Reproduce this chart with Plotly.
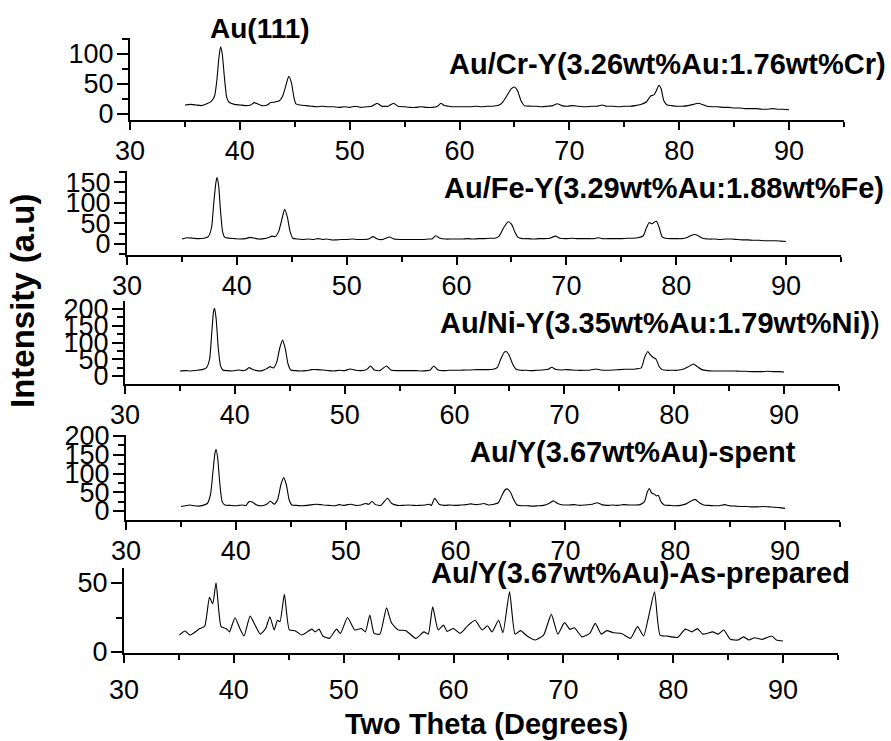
import plotly.graph_objects as go

W, H = 891, 741

# ---------------- data (2theta in degrees, intensity a.u.) ----------------
cr_x = [35.0, 35.5, 36.0, 36.5, 37.0, 37.4, 37.7, 37.9, 38.1, 38.25, 38.4, 38.6, 38.8, 39.0, 39.5, 40.0, 40.5, 41.0, 41.3, 41.6,
        42.0, 42.5, 42.8, 43.2, 43.6, 43.9, 44.2, 44.45, 44.7, 44.9, 45.1, 45.5, 46.0, 46.5, 47.0, 47.5, 48.0, 48.5, 49.0, 49.5,
        50.0, 50.5, 51.0, 51.5, 52.0, 52.5, 52.9, 53.5, 54.0, 54.4, 55.0, 55.5, 56.0, 56.5, 57.0, 57.5, 58.0, 58.3, 58.6, 59.0,
        59.5, 60.0, 60.5, 61.0, 61.5, 62.0, 62.5, 63.0, 63.5, 63.9, 64.3, 64.7, 65.0, 65.3, 65.6, 65.9, 66.5, 67.0, 67.5, 68.0,
        68.5, 68.9, 69.3, 69.8, 70.3, 70.8, 71.5, 72.0, 72.5, 73.0, 73.4, 74.0, 74.5, 75.0, 75.5, 76.0, 76.5, 77.0, 77.4, 77.7,
        77.9, 78.15, 78.35, 78.6, 78.9, 79.3, 79.8, 80.3, 80.8, 81.3, 81.7, 82.1, 82.5, 83.0, 83.5, 84.0, 84.5, 85.0, 85.5, 86.0,
        86.5, 87.0, 87.5, 88.0, 88.5, 89.0, 89.5, 90.0]
cr_y = [15, 16, 15, 14, 17, 21, 30, 55, 95, 112, 100, 60, 28, 20, 16, 15, 14, 15, 19, 17,
        14, 15, 19, 20, 22, 30, 48, 63, 52, 30, 17, 15, 14, 13, 12, 13, 12, 12, 11, 12,
        11, 13, 11, 12, 13, 18, 13, 13, 18, 13, 12, 11, 11, 12, 11, 11, 13, 18, 14, 13,
        12, 12, 12, 12, 13, 12, 13, 13, 14, 19, 30, 42, 45, 38, 22, 14, 13, 13, 12, 13,
        14, 17, 14, 13, 14, 13, 12, 13, 13, 15, 13, 13, 12, 13, 13, 14, 16, 20, 30, 32,
        38, 48, 42, 22, 15, 14, 13, 13, 14, 16, 18, 16, 13, 12, 12, 11, 11, 10, 10, 9,
        9, 9, 8, 8, 9, 8, 8, 7]

fe_x = [35.0, 35.5, 36.0, 36.5, 37.0, 37.4, 37.7, 37.9, 38.1, 38.2, 38.35, 38.5, 38.7, 38.9, 39.3, 39.8, 40.3, 40.8, 41.2, 41.6,
        42.0, 42.5, 42.9, 43.2, 43.5, 43.8, 44.1, 44.35, 44.6, 44.85, 45.1, 45.5, 46.0, 46.5, 47.0, 47.4, 47.8, 48.2, 48.6, 49.0,
        49.5, 50.0, 50.5, 51.0, 51.5, 52.0, 52.4, 52.8, 53.3, 53.9, 54.3, 55.0, 55.5, 56.0, 56.5, 57.0, 57.5, 57.8, 58.1, 58.5,
        59.0, 59.5, 60.0, 60.5, 61.0, 61.5, 62.0, 62.5, 63.0, 63.5, 63.9, 64.3, 64.7, 65.0, 65.3, 65.6, 66.0, 66.5, 67.0, 67.5,
        68.0, 68.5, 69.0, 69.4, 70.0, 70.5, 71.0, 71.5, 72.0, 72.5, 72.9, 73.3, 74.0, 74.5, 75.0, 75.5, 76.0, 76.5, 77.0, 77.3,
        77.55, 77.8, 78.0, 78.2, 78.45, 78.7, 79.0, 79.5, 80.0, 80.5, 81.0, 81.4, 81.7, 82.0, 82.4, 83.0, 83.5, 84.0, 84.5, 85.0,
        85.5, 86.0, 86.5, 87.0, 87.5, 88.0, 88.5, 89.0, 89.5, 90.0]
fe_y = [12, 15, 14, 13, 14, 18, 40, 100, 150, 161, 140, 85, 30, 16, 14, 13, 12, 13, 16, 14,
        12, 13, 16, 19, 18, 30, 60, 84, 65, 30, 14, 12, 11, 12, 11, 13, 11, 12, 10, 10,
        11, 11, 12, 11, 11, 12, 18, 12, 11, 17, 12, 11, 11, 11, 11, 11, 12, 13, 20, 14,
        12, 12, 12, 12, 13, 12, 13, 13, 14, 14, 20, 40, 54, 48, 30, 16, 13, 13, 12, 13,
        13, 14, 19, 14, 13, 14, 13, 13, 13, 13, 15, 13, 13, 13, 13, 14, 14, 15, 20, 40,
        52, 49, 53, 55, 40, 18, 14, 13, 13, 13, 16, 21, 23, 20, 14, 12, 12, 11, 12, 12,
        11, 10, 10, 9, 9, 8, 8, 8, 7, 6]

ni_x = [35.0, 35.5, 36.0, 36.5, 37.0, 37.4, 37.7, 37.9, 38.05, 38.15, 38.3, 38.5, 38.7, 38.9, 39.3, 39.8, 40.3, 40.7, 41.0, 41.3,
        41.6, 42.0, 42.5, 42.9, 43.2, 43.5, 43.8, 44.1, 44.35, 44.6, 44.85, 45.1, 45.5, 46.0, 46.5, 47.0, 47.5, 48.0, 48.5, 49.0,
        49.5, 50.0, 50.5, 51.0, 51.5, 52.0, 52.35, 52.7, 53.2, 53.8, 54.2, 54.8, 55.5, 56.0, 56.5, 57.0, 57.5, 57.8, 58.1, 58.5,
        59.0, 59.5, 60.0, 60.5, 61.0, 61.5, 62.0, 62.5, 63.0, 63.5, 63.9, 64.2, 64.5, 64.7, 65.0, 65.3, 65.6, 66.0, 66.5, 67.0,
        67.5, 68.0, 68.5, 68.85, 69.2, 69.7, 70.2, 70.7, 71.2, 71.8, 72.4, 72.9, 73.3, 74.0, 74.5, 75.0, 75.5, 76.0, 76.5, 77.0,
        77.3, 77.6, 77.85, 78.1, 78.35, 78.6, 78.9, 79.3, 79.8, 80.3, 80.8, 81.3, 81.75, 82.1, 82.5, 83.0, 83.5, 84.0, 84.5, 85.0,
        85.5, 86.0, 86.5, 87.0, 87.5, 88.0, 88.5, 89.0, 89.5, 90.0]
ni_y = [15, 16, 15, 17, 19, 24, 50, 130, 190, 202, 170, 80, 30, 18, 16, 15, 18, 16, 18, 25,
        20, 16, 16, 22, 28, 24, 40, 85, 107, 80, 35, 18, 16, 15, 16, 19, 19, 18, 16, 15,
        17, 16, 21, 17, 16, 19, 30, 18, 16, 30, 18, 16, 16, 16, 16, 15, 16, 18, 30, 18,
        16, 17, 17, 17, 18, 18, 19, 19, 19, 20, 26, 50, 70, 73, 60, 35, 20, 17, 17, 16,
        17, 18, 20, 26, 20, 18, 19, 18, 17, 17, 18, 21, 18, 17, 18, 19, 20, 20, 21, 24,
        55, 73, 62, 55, 50, 30, 19, 17, 17, 17, 20, 28, 36, 28, 19, 16, 15, 15, 15, 15,
        15, 14, 14, 13, 13, 13, 14, 13, 13, 12]

sp_x = [35.0, 35.4, 35.8, 36.2, 36.6, 37.0, 37.4, 37.7, 37.9, 38.1, 38.2, 38.35, 38.55, 38.75, 39.0, 39.5, 40.0, 40.3, 40.6, 40.9,
        41.2, 41.5, 41.9, 42.4, 42.8, 43.15, 43.5, 43.8, 44.1, 44.35, 44.6, 44.85, 45.1, 45.5, 46.0, 46.5, 47.0, 47.3, 47.7, 48.0,
        48.5, 49.0, 49.4, 49.8, 50.2, 50.5, 50.9, 51.4, 51.8, 52.1, 52.4, 52.7, 53.2, 53.8, 54.2, 54.7, 55.2, 55.7, 56.2, 56.7,
        57.2, 57.6, 57.8, 58.1, 58.5, 59.0, 59.5, 60.0, 60.5, 61.0, 61.4, 61.8, 62.2, 62.6, 63.0, 63.5, 63.9, 64.2, 64.5, 64.7,
        65.0, 65.3, 65.6, 66.0, 66.5, 67.0, 67.5, 68.0, 68.5, 68.9, 69.3, 69.8, 70.3, 70.8, 71.3, 71.8, 72.4, 72.9, 73.3, 73.8,
        74.3, 74.8, 75.3, 75.8, 76.3, 76.8, 77.2, 77.45, 77.65, 77.85, 78.1, 78.3, 78.45, 78.7, 79.0, 79.5, 80.0, 80.5, 81.0, 81.4,
        81.8, 82.2, 82.6, 83.0, 83.5, 84.0, 84.5, 84.9, 85.5, 86.0, 86.5, 87.0, 87.5, 88.0, 88.5, 89.0, 89.5, 90.0]
sp_y = [12, 14, 16, 14, 13, 15, 20, 45, 100, 155, 164, 140, 70, 25, 16, 15, 14, 15, 16, 14,
        25, 24, 16, 14, 18, 26, 18, 30, 70, 89, 70, 30, 16, 15, 14, 15, 17, 18, 17, 16,
        15, 14, 17, 15, 17, 18, 15, 16, 20, 18, 26, 17, 15, 34, 20, 15, 15, 16, 15, 15,
        16, 18, 15, 34, 18, 15, 16, 15, 16, 17, 19, 17, 18, 20, 16, 18, 22, 40, 56, 59,
        50, 30, 16, 14, 14, 13, 14, 15, 20, 27, 20, 16, 16, 17, 15, 16, 18, 22, 17, 15,
        16, 15, 17, 16, 16, 17, 25, 50, 60, 48, 45, 40, 42, 25, 16, 15, 14, 15, 19, 26,
        31, 22, 16, 15, 14, 14, 17, 14, 13, 12, 12, 11, 11, 12, 11, 10, 9, 7]

ap_x = [35.04, 35.55, 36.0, 36.9, 37.35, 37.78, 38.08, 38.38, 38.84, 39.3, 39.6, 40.1, 40.55, 40.93, 41.48, 42.0, 42.4, 42.9, 43.28, 43.67,
        43.97, 44.2, 44.6, 45.05, 45.56, 46.2, 47.1, 47.4, 47.75, 48.1, 48.7, 49.35, 49.7, 50.35, 51.0, 51.6, 51.97, 52.38, 52.77, 53.3,
        53.9, 54.36, 54.97, 55.66, 56.57, 57.3, 57.7, 58.1, 58.6, 59.1, 59.4, 60.0, 60.6, 61.35, 61.97, 62.6, 63.1, 63.5, 64.1, 64.5,
        65.1, 65.6, 66.1, 66.7, 67.43, 68.2, 68.9, 69.5, 70.1, 70.6, 71.0, 71.7, 72.4, 72.9, 73.45, 73.95, 74.55, 75.3, 76.1, 76.75,
        77.3, 77.85, 78.3, 78.8, 79.4, 80.4, 81.1, 81.7, 82.2, 82.7, 83.6, 84.1, 84.6, 85.2, 85.9, 86.4, 86.9, 87.4, 88.1, 88.98,
        89.4, 90.0]
ap_y = [12.3, 15.2, 12.3, 17, 18.8, 39.6, 35, 50.2, 18.4, 17, 14.6, 24.9, 17, 11.6, 26, 18.4, 13, 17, 25.6, 16,
        23, 22, 41.8, 16, 15.5, 12.3, 16.6, 14.6, 16.6, 11.6, 9.9, 16.6, 13.5, 25, 16, 17, 14.6, 26.8, 13.5, 13,
        32, 21, 16, 15.5, 9.9, 14.6, 13, 32.8, 16, 19.5, 15, 17, 13.5, 19.5, 23, 16, 19, 14.6, 23, 14,
        43.7, 13, 15.5, 11.6, 8.7, 12.3, 27.3, 13, 21.3, 16.4, 17.6, 11, 13.5, 20.8, 13, 15.5, 14, 13.5, 9.9, 18.4,
        11.6, 29, 43.7, 12.3, 11.6, 10.6, 16.6, 14.6, 17, 13, 14.6, 13, 16, 9.2, 8.7, 11, 8.7, 10.4, 9.2, 11.6,
        8.7, 8]

labels = ["<b>Au/Cr-Y(3.26wt%Au:1.76wt%Cr)</b>",
          "<b>Au/Fe-Y(3.29wt%Au:1.88wt%Fe)</b>",
          "<b>Au/Ni-Y(3.35wt%Au:1.79wt%Ni)</b>)",
          "<b>Au/Y(3.67wt%Au)-spent</b>",
          "<b>Au/Y(3.67wt%Au)-As-prepared</b>"]
peak_label = "<b>Au(111)</b>"
x_title = "<b>Two Theta (Degrees)</b>"
y_title = "<b>Intensity (a.u)</b>"

series = [(cr_x, cr_y), (fe_x, fe_y), (ni_x, ni_y), (sp_x, sp_y), (ap_x, ap_y)]

# ---------------- layout geometry (pixels) ----------------
boxes = [(130, 844, 38, 120), (127, 841, 171, 255), (125, 839, 301, 384),
         (126, 840, 435, 520), (124, 838, 568, 653)]
yranges = [(-10, 126.7), (-26.6, 176.8), (-23.9, 223.9), (-24, 202.7), (-0.7, 60.9)]
label_pos = [(667, 64), (664, 188), (660, 323), (633, 452), (640, 573)]
x_standoff = [-2, -2, -2, -2, 4]

FONT = "Liberation Sans, Arial, sans-serif"

fig = go.Figure()
layout = dict(width=W, height=H, margin=dict(l=0, r=0, t=0, b=0, pad=0, autoexpand=False),
              paper_bgcolor="white", plot_bgcolor="white", showlegend=False,
              font=dict(family=FONT, color="black"))

for i, ((xs, ys), (l, r, t, b), yr) in enumerate(zip(series, boxes, yranges)):
    n = i + 1
    xa = "x" if n == 1 else f"x{n}"
    ya = "y" if n == 1 else f"y{n}"
    fig.add_trace(go.Scatter(x=xs, y=ys, mode="lines", xaxis=xa, yaxis=ya,
                             line=dict(color="black", width=1.1, shape="spline", smoothing=0.5),
                             hoverinfo="skip"))
    layout["xaxis" if n == 1 else f"xaxis{n}"] = dict(
        domain=[l / W, r / W], anchor=ya, range=[30, 95], automargin=False,
        tick0=30, dtick=10, ticks="outside", ticklen=8, tickwidth=2, tickcolor="black",
        ticklabelstandoff=x_standoff[i],
        minor=dict(dtick=5, tick0=30, ticks="outside", ticklen=5, tickwidth=2, tickcolor="black"),
        showline=True, linewidth=2, linecolor="black", showgrid=False, zeroline=False,
        tickfont=dict(size=27, family=FONT, color="black"))
    layout["yaxis" if n == 1 else f"yaxis{n}"] = dict(
        domain=[1 - b / H, 1 - t / H], anchor=xa, range=list(yr), automargin=False,
        tick0=0, dtick=50, ticks="outside", ticklen=11, tickwidth=2, tickcolor="black",
        ticklabelstandoff=-2,
        minor=dict(dtick=25, tick0=0, ticks="outside", ticklen=6, tickwidth=2, tickcolor="black"),
        showline=True, linewidth=2, linecolor="black", showgrid=False, zeroline=False,
        tickfont=dict(size=27, family=FONT, color="black"))

ann = []
for txt, (px, py) in zip(labels, label_pos):
    ann.append(dict(text=txt, x=px / W, y=1 - py / H, xref="paper", yref="paper",
                    xanchor="center", yanchor="middle", showarrow=False,
                    font=dict(size=29, family=FONT, color="black")))
ann.append(dict(text=peak_label, x=260 / W, y=1 - 28 / H, xref="paper", yref="paper",
                xanchor="center", yanchor="middle", showarrow=False,
                font=dict(size=28, family=FONT, color="black")))
ann.append(dict(text=x_title, x=487 / W, y=1 - 724 / H, xref="paper", yref="paper",
                xanchor="center", yanchor="middle", showarrow=False,
                font=dict(size=29, family=FONT, color="black")))
ann.append(dict(text=y_title, x=23 / W, y=1 - 301 / H, xref="paper", yref="paper",
                xanchor="center", yanchor="middle", showarrow=False, textangle=-90,
                font=dict(size=33, family=FONT, color="black")))
layout["annotations"] = ann

fig.update_layout(**layout)
fig.write_html("out.html")
